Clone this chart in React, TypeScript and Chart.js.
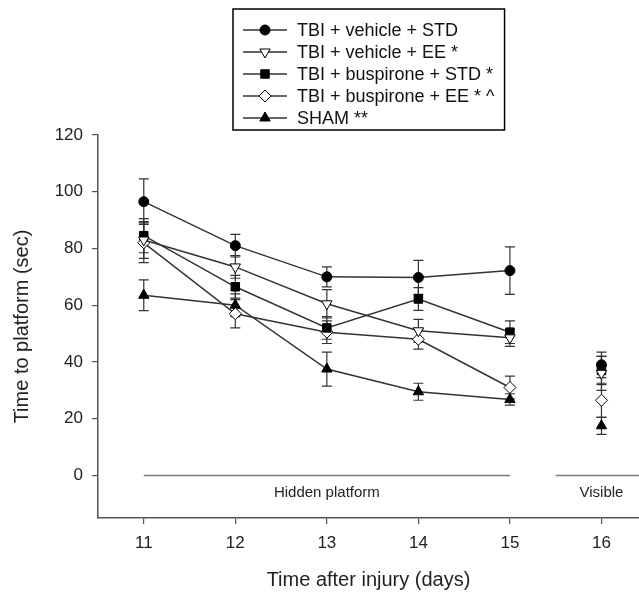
import React, { useEffect, useRef } from 'react';
import { Chart, registerables } from 'chart.js';
import { drawPoint } from 'chart.js/helpers';

Chart.register(...registerables);

const days = [11, 12, 13, 14, 15, 16];
const seriesNames = [
  'TBI + vehicle + STD',
  'TBI + vehicle + EE *',
  'TBI + buspirone + STD *',
  'TBI + buspirone + EE * ^',
  'SHAM **',
];
const vehicleStd = [96.5, 81, 70, 69.8, 72.2, 39];
const vehicleStdErr = [8, 4, 3.5, 6, 8.4, 4.5];
const vehicleEe = [83, 73.5, 60.5, 51, 48.5, 36];
const vehicleEeErr = [6.5, 4, 5, 4, 3, 6];
const buspStd = [84.5, 66.5, 52, 62.2, 50.5, 37];
const buspStdErr = [6, 4, 4, 4, 4, 5];
const buspEe = [82, 57, 50.5, 48, 31, 26.5];
const buspEeErr = [7, 5, 4, 3.5, 4, 6];
const sham = [63.5, 60, 37.5, 29.5, 26.8, 17.5];
const shamErr = [5.4, 4, 6, 3, 2, 3];
const yTicks = [0, 20, 40, 60, 80, 100, 120];
const xTicks = [11, 12, 13, 14, 15, 16];
const phaseLabels = ['Hidden platform', 'Visible'];

const FONT = '"Liberation Sans", Arial, Helvetica, sans-serif';

const styles = [
  { pointStyle: 'circle', rotation: 0, radius: 5, fill: '#000' },
  { pointStyle: 'triangle', rotation: 180, radius: 6, fill: '#fff' },
  { pointStyle: 'rect', rotation: 0, radius: 6, fill: '#000' },
  { pointStyle: 'rectRot', rotation: 0, radius: 6, fill: '#fff' },
  { pointStyle: 'triangle', rotation: 0, radius: 6, fill: '#000' },
];

const allValues = [vehicleStd, vehicleEe, buspStd, buspEe, sham];
const allErrors = [vehicleStdErr, vehicleEeErr, buspStdErr, buspEeErr, shamErr];

function buildPoints(vals: number[]) {
  const pts: { x: number; y: number | null }[] = [];
  days.forEach((d, i) => {
    if (d === 16) pts.push({ x: 15.5, y: null });
    pts.push({ x: d, y: vals[i] });
  });
  return pts;
}

const errorBarPlugin = {
  id: 'errorBars',
  beforeDatasetsDraw(chart: any) {
    const { ctx, scales } = chart;
    const xs = scales.x;
    const ys = scales.y;
    ctx.save();
    ctx.strokeStyle = '#333';
    ctx.lineWidth = 1.2;
    allValues.forEach((vals, si) => {
      vals.forEach((v, i) => {
        const e = allErrors[si][i];
        const px = xs.getPixelForValue(days[i]);
        const top = ys.getPixelForValue(v + e);
        const bot = ys.getPixelForValue(v - e);
        ctx.beginPath();
        ctx.moveTo(px, top);
        ctx.lineTo(px, bot);
        ctx.moveTo(px - 5, top);
        ctx.lineTo(px + 5, top);
        ctx.moveTo(px - 5, bot);
        ctx.lineTo(px + 5, bot);
        ctx.stroke();
      });
    });
    ctx.restore();
  },
};

const phasePlugin = {
  id: 'phases',
  beforeDatasetsDraw(chart: any) {
    const { ctx, scales, chartArea } = chart;
    const xs = scales.x;
    const ys = scales.y;
    const y0 = ys.getPixelForValue(0);
    ctx.save();
    ctx.strokeStyle = '#777';
    ctx.lineWidth = 1.5;
    ctx.beginPath();
    ctx.moveTo(xs.getPixelForValue(11), y0);
    ctx.lineTo(xs.getPixelForValue(15), y0);
    ctx.moveTo(xs.getPixelForValue(15.5), y0);
    ctx.lineTo(chartArea.right, y0);
    ctx.stroke();
    ctx.fillStyle = '#222';
    ctx.font = '15px ' + FONT;
    ctx.textAlign = 'center';
    ctx.textBaseline = 'middle';
    ctx.fillText(phaseLabels[0], xs.getPixelForValue(13), y0 + 17);
    ctx.fillText(phaseLabels[1], xs.getPixelForValue(16), y0 + 17);
    ctx.restore();
  },
};

const legendPlugin = {
  id: 'boxLegend',
  afterDraw(chart: any) {
    const ctx = chart.ctx;
    ctx.save();
    ctx.font = '18px ' + FONT;
    const x0 = 233;
    const y0 = 9;
    const firstRow = 30;
    const rowH = 22;
    const textX = 297;
    let maxW = 0;
    seriesNames.forEach((n) => {
      maxW = Math.max(maxW, ctx.measureText(n).width);
    });
    const w = textX - x0 + maxW + 10;
    const h = firstRow - y0 + rowH * (seriesNames.length - 1) + 12;
    ctx.fillStyle = '#fff';
    ctx.fillRect(x0, y0, w, h);
    ctx.strokeStyle = '#000';
    ctx.lineWidth = 1.5;
    ctx.strokeRect(x0, y0, w, h);
    seriesNames.forEach((name, i) => {
      const y = firstRow + i * rowH;
      const st = styles[i];
      ctx.strokeStyle = '#333';
      ctx.lineWidth = 1.5;
      ctx.beginPath();
      ctx.moveTo(243, y);
      ctx.lineTo(287, y);
      ctx.stroke();
      ctx.fillStyle = st.fill;
      ctx.strokeStyle = '#000';
      ctx.lineWidth = 1;
      drawPoint(ctx, { pointStyle: st.pointStyle as any, rotation: st.rotation, radius: st.radius, borderWidth: 1 }, 265, y);
      ctx.fillStyle = '#111';
      ctx.textAlign = 'left';
      ctx.textBaseline = 'middle';
      ctx.fillText(name, textX, y + 1);
    });
    ctx.restore();
  },
};

export default function App() {
  const ref = useRef<HTMLCanvasElement | null>(null);
  useEffect(() => {
    if (!ref.current) return;
    const datasets = allValues.map((vals, i) => ({
      label: seriesNames[i],
      data: buildPoints(vals),
      borderColor: '#333',
      borderWidth: 1.5,
      pointStyle: styles[i].pointStyle as any,
      rotation: styles[i].rotation,
      pointRotation: styles[i].rotation,
      pointRadius: styles[i].radius,
      pointHoverRadius: styles[i].radius,
      pointBackgroundColor: styles[i].fill,
      pointBorderColor: '#000',
      pointBorderWidth: 1,
      spanGaps: false,
      tension: 0,
      fill: false,
    }));
    const chart = new Chart(ref.current, {
      type: 'line',
      data: { datasets },
      options: {
        responsive: false,
        animation: false,
        events: [],
        layout: { autoPadding: false, padding: { top: 135, left: 0, right: 0, bottom: 0 } },
        plugins: { legend: { display: false }, tooltip: { enabled: false } },
        scales: {
          x: {
            type: 'linear',
            min: 10.5,
            max: 16.41,
            afterBuildTicks: (scale: any) => {
              scale.ticks = xTicks.map((v) => ({ value: v }));
            },
            afterFit: (scale: any) => {
              scale.height = 75;
              scale.paddingLeft = 0;
              scale.paddingRight = 0;
            },
            grid: { drawOnChartArea: false, drawTicks: true, tickLength: 6, color: '#555', lineWidth: 1.2 },
            border: { display: true, color: '#555', width: 1.5 },
            ticks: {
              padding: 9,
              color: '#222',
              font: { family: FONT, size: 17 },
              callback: (v: any) => String(v),
              maxRotation: 0,
            },
            title: {
              display: true,
              text: 'Time after injury (days)',
              color: '#222',
              font: { family: FONT, size: 20 },
              padding: { top: 0, bottom: 1 },
            },
          },
          y: {
            type: 'linear',
            min: -15,
            max: 120,
            afterBuildTicks: (scale: any) => {
              scale.ticks = yTicks.map((v) => ({ value: v }));
            },
            afterFit: (scale: any) => {
              scale.width = 98;
              scale.paddingTop = 0;
              scale.paddingBottom = 0;
            },
            grid: { drawOnChartArea: false, drawTicks: true, tickLength: 6, color: '#555', lineWidth: 1.2 },
            border: { display: true, color: '#555', width: 1.5 },
            ticks: {
              padding: 9,
              color: '#222',
              font: { family: FONT, size: 17 },
              callback: (v: any) => String(v),
            },
            title: {
              display: true,
              text: 'Time to platform (sec)',
              color: '#222',
              font: { family: FONT, size: 20 },
              padding: { top: 10, bottom: 0 },
            },
          },
        },
      },
      plugins: [phasePlugin, errorBarPlugin, legendPlugin],
    });
    return () => chart.destroy();
  }, []);
  return (
    <div style={{ position: 'absolute', left: 0, top: 0, width: 639, height: 593, background: '#fff' }}>
      <canvas ref={ref} width={639} height={593} style={{ display: 'block', width: 639, height: 593 }} />
    </div>
  );
}
